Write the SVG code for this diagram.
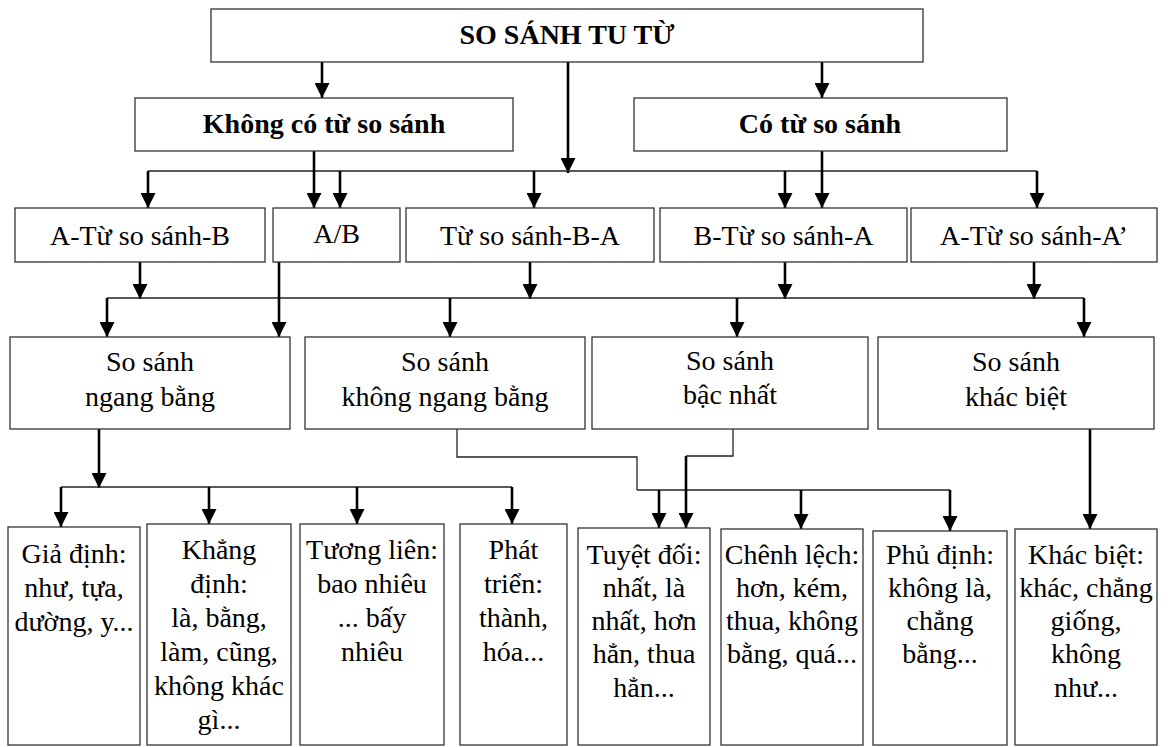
<svg xmlns="http://www.w3.org/2000/svg" width="1168" height="747" viewBox="0 0 1168 747">
<style>
.box{fill:#fff;stroke:#333;stroke-width:1.3}
.t{font-family:"Liberation Serif","Times New Roman",serif;font-size:28px;fill:#000;text-anchor:middle}
.b{font-weight:bold}
.ar{fill:none;stroke:#000;stroke-width:2.6;marker-end:url(#ah)}
.ln{fill:none;stroke:#222;stroke-width:1.3}
</style>
<defs>
<marker id="ah" markerUnits="userSpaceOnUse" markerWidth="15" markerHeight="15" viewBox="0 -7.5 15 15" refX="15" refY="0" orient="auto">
<path d="M0,-7.5 L15,0 L0,7.5 z" fill="#000"/>
</marker>
</defs>
<rect width="1168" height="747" fill="#fff"/>
<g id="connectors">
<line class="ar" x1="322" y1="62" x2="322" y2="98"/>
<line class="ar" x1="822" y1="62" x2="822" y2="98"/>
<line class="ar" x1="568" y1="62" x2="568" y2="173"/>
<line class="ln" x1="148" y1="171" x2="1037" y2="171"/>
<line class="ar" x1="148" y1="171" x2="148" y2="208"/>
<line class="ar" x1="340" y1="171" x2="340" y2="208"/>
<line class="ar" x1="534" y1="171" x2="534" y2="208"/>
<line class="ar" x1="785" y1="171" x2="785" y2="208"/>
<line class="ar" x1="1037" y1="171" x2="1037" y2="208"/>
<line class="ar" x1="314" y1="151" x2="314" y2="208"/>
<line class="ar" x1="822" y1="151" x2="822" y2="208"/>
<line class="ar" x1="140" y1="262" x2="140" y2="299"/>
<line class="ar" x1="530" y1="262" x2="530" y2="299"/>
<line class="ar" x1="785" y1="262" x2="785" y2="299"/>
<line class="ar" x1="1034" y1="262" x2="1034" y2="299"/>
<line class="ln" x1="107" y1="298" x2="1084" y2="298"/>
<line class="ar" x1="107" y1="298" x2="107" y2="337"/>
<line class="ar" x1="450" y1="298" x2="450" y2="337"/>
<line class="ar" x1="737" y1="298" x2="737" y2="337"/>
<line class="ar" x1="1084" y1="298" x2="1084" y2="337"/>
<line class="ar" x1="279" y1="262" x2="279" y2="337"/>
<line class="ar" x1="99" y1="429" x2="99" y2="488"/>
<line class="ln" x1="61" y1="487" x2="512" y2="487"/>
<line class="ar" x1="61" y1="487" x2="61" y2="527"/>
<line class="ar" x1="209" y1="487" x2="209" y2="524"/>
<line class="ar" x1="357" y1="487" x2="357" y2="524"/>
<line class="ar" x1="512" y1="487" x2="512" y2="524"/>
<polyline class="ln" points="457,429 457,457 637,457 637,490"/>
<line class="ln" x1="637" y1="490" x2="950" y2="490"/>
<line class="ar" x1="659" y1="490" x2="659" y2="528"/>
<line class="ar" x1="801" y1="490" x2="801" y2="529"/>
<line class="ar" x1="950" y1="490" x2="950" y2="531"/>
<polyline class="ln" points="733,429 733,456 686,456"/>
<line class="ar" x1="686" y1="456" x2="686" y2="528"/>
<line class="ar" x1="1090" y1="429" x2="1090" y2="529"/>
</g>
<g id="n-top"><rect class="box" x="211" y="9" width="712" height="53"/><text class="t b" x="567" y="44">SO SÁNH TU TỪ</text></g>
<g id="n-khong"><rect class="box" x="135" y="98" width="378" height="53"/><text class="t b" x="324" y="133">Không có từ so sánh</text></g>
<g id="n-co"><rect class="box" x="634" y="98" width="373" height="53"/><text class="t b" x="820" y="133">Có từ so sánh</text></g>
<g id="n-atsb"><rect class="box" x="15" y="208" width="250" height="54"/><text class="t" x="140" y="245">A-Từ so sánh-B</text></g>
<g id="n-ab"><rect class="box" x="273" y="208" width="127" height="54"/><text class="t" x="336.5" y="243">A/B</text></g>
<g id="n-tsba"><rect class="box" x="406" y="208" width="248" height="54"/><text class="t" x="530" y="245">Từ so sánh-B-A</text></g>
<g id="n-btsa"><rect class="box" x="660" y="208" width="247" height="54"/><text class="t" x="783.5" y="245">B-Từ so sánh-A</text></g>
<g id="n-atsa"><rect class="box" x="911" y="208" width="246" height="54"/><text class="t" x="1034" y="245">A-Từ so sánh-A’</text></g>
<g id="n-ngang"><rect class="box" x="10" y="337" width="280" height="92"/><text class="t" x="150" y="371">So sánh</text><text class="t" x="150" y="406">ngang bằng</text></g>
<g id="n-khongngang"><rect class="box" x="305" y="337" width="280" height="92"/><text class="t" x="445" y="371">So sánh</text><text class="t" x="445" y="406">không ngang bằng</text></g>
<g id="n-bacnhat"><rect class="box" x="592" y="337" width="276" height="92"/><text class="t" x="730" y="370">So sánh</text><text class="t" x="730" y="404">bậc nhất</text></g>
<g id="n-khacbiet"><rect class="box" x="878" y="337" width="276" height="92"/><text class="t" x="1016" y="371">So sánh</text><text class="t" x="1016" y="406">khác biệt</text></g>
<g id="n-giadinh"><rect class="box" x="8" y="527" width="132" height="218"/><text class="t" x="74" y="563">Giả định:</text><text class="t" x="74" y="597">như, tựa,</text><text class="t" x="74" y="631">dường, y...</text></g>
<g id="n-khangdinh"><rect class="box" x="147" y="524" width="144" height="221"/><text class="t" x="219" y="559">Khẳng</text><text class="t" x="219" y="593">định:</text><text class="t" x="219" y="627">là, bằng,</text><text class="t" x="219" y="661">làm, cũng,</text><text class="t" x="219" y="695">không khác</text><text class="t" x="219" y="729">gì...</text></g>
<g id="n-tuonglien"><rect class="box" x="300" y="524" width="144" height="221"/><text class="t" x="372" y="559">Tương liên:</text><text class="t" x="372" y="593">bao nhiêu</text><text class="t" x="372" y="627">... bấy</text><text class="t" x="372" y="661">nhiêu</text></g>
<g id="n-phattrien"><rect class="box" x="460" y="524" width="107" height="221"/><text class="t" x="513.5" y="559">Phát</text><text class="t" x="513.5" y="593">triển:</text><text class="t" x="513.5" y="627">thành,</text><text class="t" x="513.5" y="661">hóa...</text></g>
<g id="n-tuyetdoi"><rect class="box" x="578" y="528" width="132" height="217"/><text class="t" x="644" y="564">Tuyệt đối:</text><text class="t" x="644" y="597">nhất, là</text><text class="t" x="644" y="630">nhất, hơn</text><text class="t" x="644" y="663">hẳn, thua</text><text class="t" x="644" y="697">hẳn...</text></g>
<g id="n-chenhlech"><rect class="box" x="721" y="529" width="142" height="216"/><text class="t" x="792" y="564">Chênh lệch:</text><text class="t" x="792" y="597">hơn, kém,</text><text class="t" x="792" y="630">thua, không</text><text class="t" x="792" y="663">bằng, quá...</text></g>
<g id="n-phudinh"><rect class="box" x="873" y="531" width="134" height="214"/><text class="t" x="940" y="564">Phủ định:</text><text class="t" x="940" y="597">không là,</text><text class="t" x="940" y="630">chẳng</text><text class="t" x="940" y="663">bằng...</text></g>
<g id="n-khacbiet2"><rect class="box" x="1015" y="529" width="142" height="216"/><text class="t" x="1086" y="564">Khác biệt:</text><text class="t" x="1086" y="597">khác, chẳng</text><text class="t" x="1086" y="630">giống,</text><text class="t" x="1086" y="663">không</text><text class="t" x="1086" y="697">như...</text></g>
</svg>
